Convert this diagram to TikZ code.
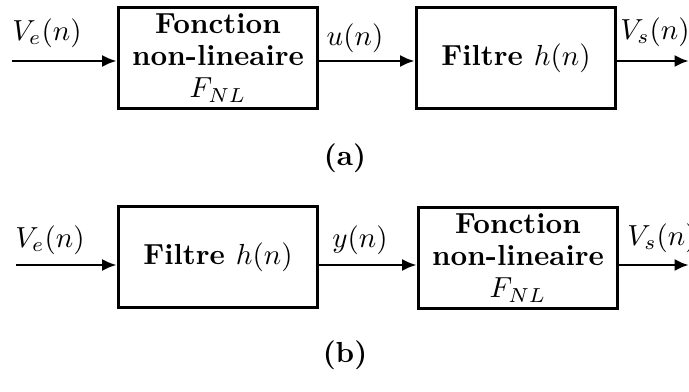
\documentclass[tikz,border=0pt]{standalone}
\usepackage{amsmath,amssymb}
\usepackage{tikz}
\usetikzlibrary{positioning, arrows.meta}
\tikzset{
    bloc/.style={draw, rectangle, line width=1pt, minimum width=2.42cm, minimum height=1.23cm, align=center, font=\bfseries, inner sep=0pt},
    sig/.style={-{Latex[length=5pt, width=4.2pt]}, line width=1pt},
    lbl/.style={inner sep=1pt},
}

\begin{document}
\begin{tikzpicture}[x=0.01212cm, y=-0.01212cm]
        \useasboundingbox (0,0) rectangle (689,392);

        \node [bloc] (fnlA) at (218,58) {Fonction\\[-1pt]non-lineaire\\[-1pt]$F_{NL}$};
        \node [bloc] (filA) at (516,58) {Filtre $h(n)$};
        \coordinate (inA) at (12,61);
        \coordinate (outA) at (689,61);
        \node [lbl] (veA) at (47,33) {$V_e(n)$};
        \node [lbl] (uA) at (355,38) {$u(n)$};
        \node [lbl] (vsA) at (655,32) {$V_s(n)$};
        \node (capA) at (345,158) {\textbf{(a)}};

        \draw [sig] (inA) -- (inA -| fnlA.west);
        \draw [sig] (inA -| fnlA.east) -- (inA -| filA.west);
        \draw [sig] (inA -| filA.east) -- (outA);

        \node [bloc] (filB) at (218,257) {Filtre $h(n)$};
        \node [bloc] (fnlB) at (518,258) {Fonction\\[-1pt]non-lineaire\\[-1pt]$F_{NL}$};
        \coordinate (inB) at (16,265);
        \coordinate (outB) at (689,265);
        \node [lbl] (veB) at (50,240) {$V_e(n)$};
        \node [lbl] (yB) at (360,240) {$y(n)$};
        \node [lbl] (vsB) at (662,238) {$V_s(n)$};
        \node (capB) at (345,355) {\textbf{(b)}};

        \draw [sig] (inB) -- (inB -| filB.west);
        \draw [sig] (inB -| filB.east) -- (inB -| fnlB.west);
        \draw [sig] (inB -| fnlB.east) -- (outB);
\end{tikzpicture}
\end{document}
